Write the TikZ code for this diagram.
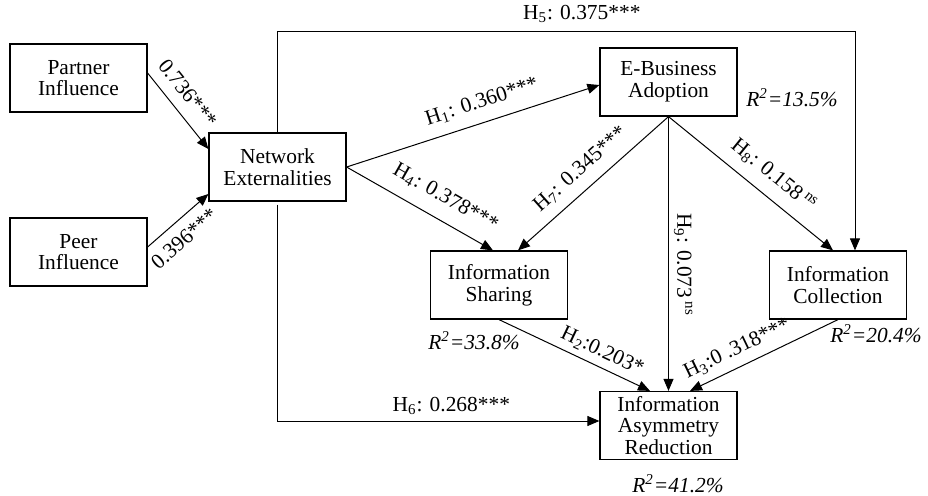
\documentclass[tikz,border=0pt]{standalone}
\usepackage{fontspec}
\setmainfont{Liberation Serif}
\usetikzlibrary{arrows.meta,calc}
\newcommand\mainfs{\fontsize{10.7pt}{10.9pt}\selectfont}
\tikzset{
  box/.style={draw, line width=0.6pt, minimum width=68.5pt, minimum height=34pt, align=center, inner sep=1pt, font=\mainfs},
  lbl/.style={inner sep=1pt, font=\mainfs},
  rsq/.style={inner sep=0pt, font=\mainfs\itshape},
  arr/.style={line width=0.5pt, -{Triangle[length=6pt,width=5pt]}},
}
\begin{document}
\begin{tikzpicture}[x=0.5pt,y=-0.5pt]
\useasboundingbox (0,0) rectangle (928,495);
% boxes
\node[box] (pi)  at (78.5,78)   {Partner\\Influence};
\node[box] (peer) at (78.5,252) {Peer\\Influence};
\node[box] (ne)  at (277.5,167) {Network\\Externalities};
\node[box] (eba) at (668.5,82)  {E-Business\\Adoption};
\node[box] (is)  at (499,285)   {Information\\Sharing};
\node[box] (ic)  at (838,285)   {Information\\Collection};
\node[box] (iar) at (668.5,425.5) {Information\\Asymmetry\\Reduction};
% R^2 labels
\node[rsq] (r1) at (792,98)  {R\textsuperscript{2}=13.5\%};
\node[rsq] (r2) at (474,341) {R\textsuperscript{2}=33.8\%};
\node[rsq] (r3) at (876,334) {R\textsuperscript{2}=20.4\%};
\node[rsq] (r4) at (678,484) {R\textsuperscript{2}=41.2\%};
% coordinates
\coordinate (h5top) at (0,31);
\coordinate (h5end) at ([xshift=8.5pt]ic.north);
\coordinate (h6end) at ([yshift=2.25pt]iar.west);
% connectors
\draw[arr] ([yshift=2.5pt]pi.east) -- node[lbl, sloped, above=4.5pt, pos=0.42]{0.736***} ([yshift=9pt]ne.west);
\draw[arr] ([yshift=2.5pt]peer.east) -- node[lbl, sloped, below=4pt, pos=0.41]{0.396***} ([yshift=-13.5pt]ne.west);
\draw[arr] (ne.north) -- (ne.north |- h5top) -- node[lbl, above=3pt, pos=0.527]{H\textsubscript{5}: 0.375***} (h5end |- h5top) -- (h5end);
\draw[arr, shorten <=1.5pt] (ne.south) -- (ne.south |- h6end) -- node[lbl, above=2pt, pos=0.54]{H\textsubscript{6}: 0.268***} (h6end);
\draw[arr] (ne.east) -- node[lbl, sloped, above=4.5pt, pos=0.56]{H\textsubscript{1}: 0.360***} ([yshift=-1.5pt]eba.west);
\draw[arr] (ne.east) -- node[lbl, sloped, above=5.5pt, pos=0.6]{H\textsubscript{4}: 0.378***} ([xshift=-3pt]is.north);
\draw[arr] (eba.south) -- node[lbl, sloped, above=4pt, pos=0.5]{H\textsubscript{7}: 0.345***} ([xshift=9.5pt]is.north);
\draw[arr] (eba.south) -- node[lbl, sloped, above=4.5pt, pos=0.56]{H\textsubscript{8}: 0.158\,\textsuperscript{ns}} ([xshift=-2.5pt]ic.north);
\draw[arr] (eba.south) -- node[lbl, rotate=-90, anchor=south, inner sep=2.5pt, pos=0.54]{H\textsubscript{9}: 0.073\,\textsuperscript{ns}} (iar.north);
\draw[arr] (is.south) -- node[lbl, sloped, above=2pt, pos=0.64]{H\textsubscript{2}:0.203*} ([xshift=-9.25pt]iar.north);
\draw[arr] (ic.south) -- node[lbl, sloped, above=3pt, pos=0.63]{H\textsubscript{3}:0 .318***} ([xshift=10.75pt]iar.north);
\end{tikzpicture}
\end{document}
